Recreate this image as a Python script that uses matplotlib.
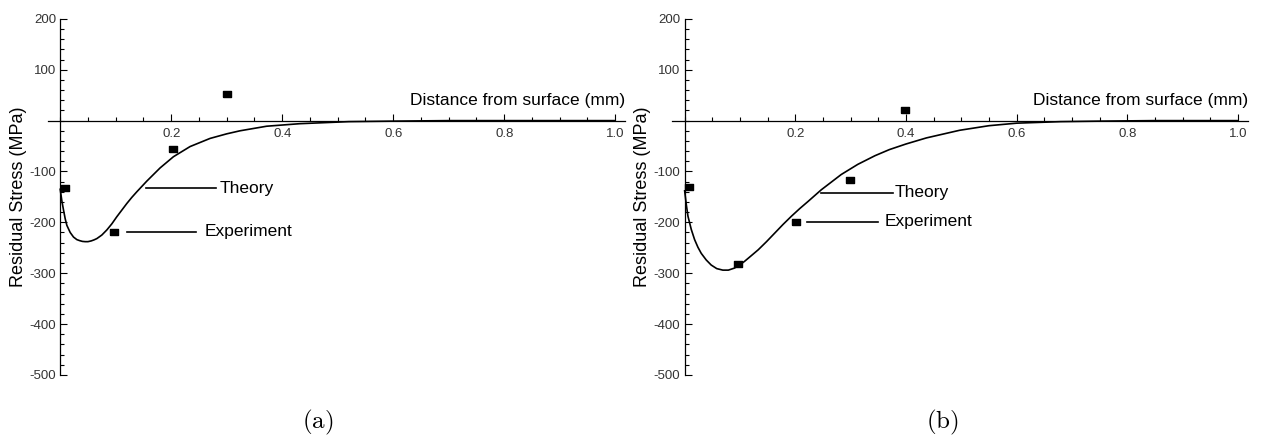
import numpy as np
import matplotlib.pyplot as plt
from matplotlib.ticker import MultipleLocator

plt.rcParams['font.family'] = ['Liberation Sans', 'DejaVu Sans']
plt.rcParams['axes.unicode_minus'] = False
plt.rcParams['mathtext.fontset'] = 'cm'

# Panel (a) data
theory_a_x = [0.0, 0.003, 0.006, 0.009, 0.012, 0.018, 0.024, 0.030, 0.035, 0.040,
              0.045, 0.050, 0.056, 0.061, 0.066, 0.075, 0.084, 0.093, 0.102, 0.111,
              0.12, 0.129, 0.138, 0.156, 0.18, 0.204, 0.234, 0.27, 0.30, 0.324,
              0.372, 0.432, 0.52, 0.6, 0.7, 0.8, 1.0]
theory_a_y = [-135, -158, -176, -193, -206, -220, -229, -234, -236, -237.5,
              -238, -238, -236.5, -234.5, -232, -225, -215, -203, -189, -176,
              -163, -151, -140, -119, -93, -71, -51, -35, -26, -20,
              -11, -6, -2, -1, 0, 0, 0]
exp_a_x = [0.009, 0.097, 0.203, 0.30]
exp_a_y = [-132, -219, -55, 53]

# Panel (b) data
theory_b_x = [0.0, 0.003, 0.006, 0.012, 0.018, 0.024, 0.030, 0.039, 0.048, 0.058,
              0.069, 0.079, 0.090, 0.099, 0.108, 0.12, 0.133, 0.148, 0.163, 0.178,
              0.193, 0.208, 0.223, 0.247, 0.265, 0.283, 0.313, 0.344, 0.37, 0.40,
              0.437, 0.497, 0.55, 0.60, 0.68, 0.75, 0.85, 1.0]
theory_b_y = [-138, -165, -188, -214, -234, -249, -261, -274, -284, -291,
              -294, -294, -290, -284, -277, -266, -254, -238, -221, -204,
              -188, -173, -159, -136, -121, -106, -86, -69, -57, -46,
              -34, -19, -10, -5, -2, -1, 0, 0]
exp_b_x = [0.007, 0.096, 0.202, 0.298, 0.398]
exp_b_y = [-131, -281, -199, -116, 20]

xtick_vals = [0.2, 0.4, 0.6, 0.8, 1.0]
xtick_labels = ['0.2', '0.4', '0.6', '0.8', '1.0']
ytick_vals = [-500, -400, -300, -200, -100, 100, 200]
ytick_labels = ['-500', '-400', '-300', '-200', '-100', '100', '200']

fig = plt.figure(figsize=(12.63, 4.40), dpi=100)
ax_a = fig.add_axes([0.038, 0.148, 0.457, 0.809])
ax_b = fig.add_axes([0.532, 0.148, 0.456, 0.809])

rect = [(-1.3, -1), (1.3, -1), (1.3, 1), (-1.3, 1), (-1.3, -1)]


def setup(ax, xmin):
    ax.set_xlim(xmin, 1.018)
    ax.set_ylim(-500, 200)
    ax.spines['left'].set_position(('data', 0))
    ax.spines['bottom'].set_position(('data', 0))
    ax.spines['top'].set_visible(False)
    ax.spines['right'].set_visible(False)
    for s in ('left', 'bottom'):
        ax.spines[s].set_linewidth(0.9)
    ax.set_xticks(xtick_vals)
    ax.set_xticklabels(xtick_labels)
    ax.set_yticks(ytick_vals)
    ax.set_yticklabels(ytick_labels)
    ax.xaxis.set_minor_locator(MultipleLocator(0.05))
    ax.yaxis.set_minor_locator(MultipleLocator(20))
    ax.tick_params(axis='both', which='both', direction='in', width=0.8,
                   labelsize=9.5, labelcolor='#333333')
    ax.tick_params(axis='both', which='major', length=5)
    ax.tick_params(axis='both', which='minor', length=3)
    ax.tick_params(axis='x', pad=5)
    ax.tick_params(axis='y', pad=3)
    ax.set_ylabel('Residual Stress (MPa)', fontsize=13)
    ax.yaxis.set_label_coords(-0.037, 0.5)
    ax.text(1.018, 40, 'Distance from surface (mm)', fontsize=12.5,
            ha='right', va='center')


setup(ax_a, -0.022)
setup(ax_b, -0.023)

# panel (a)
ax_a.plot(theory_a_x, theory_a_y, color='black', lw=1.2)
ax_a.plot(exp_a_x, exp_a_y, linestyle='none', marker=rect, ms=6, color='black')
ax_a.plot([0.154, 0.280], [-133, -133], color='black', lw=1.2)
ax_a.text(0.288, -133, 'Theory', fontsize=12.5, va='center')
ax_a.plot([0.121, 0.245], [-219, -219], color='black', lw=1.2)
ax_a.text(0.261, -219, 'Experiment', fontsize=12.5, va='center')

# panel (b)
ax_b.plot(theory_b_x, theory_b_y, color='black', lw=1.2)
ax_b.plot(exp_b_x, exp_b_y, linestyle='none', marker=rect, ms=6, color='black')
ax_b.plot([0.247, 0.377], [-142, -142], color='black', lw=1.2)
ax_b.text(0.379, -142, 'Theory', fontsize=12.5, va='center')
ax_b.plot([0.222, 0.350], [-199, -199], color='black', lw=1.2)
ax_b.text(0.362, -199, 'Experiment', fontsize=12.5, va='center')

fig.text(318 / 1263, 1 - 422 / 440, r'$\mathrm{(a)}$', fontsize=18,
         ha='center', va='center')
fig.text(942 / 1263, 1 - 422 / 440, r'$\mathrm{(b)}$', fontsize=18,
         ha='center', va='center')

fig.savefig('out.png', dpi=100)
